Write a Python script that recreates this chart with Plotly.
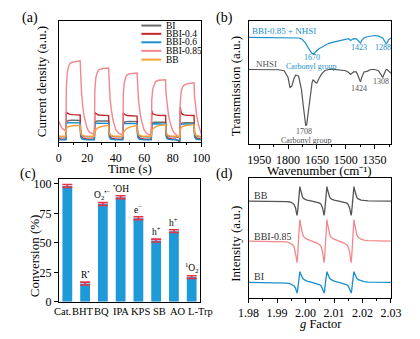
import plotly.graph_objects as go

# ---------------- data ----------------
# (a) transient photocurrent
time_s = [0, 2, 5, 5.3, 6, 7, 8, 10, 15, 15.3, 16, 17, 18, 20, 22,
          25, 25.3, 26, 27, 28, 30, 35, 35.3, 36, 37, 38, 40, 42,
          45, 45.3, 46, 47, 48, 50, 55, 55.3, 56, 57, 58, 60, 62,
          65, 65.3, 66, 67, 68, 70, 75, 75.3, 76, 77, 78, 80, 82,
          85, 85.3, 86, 87, 88, 90, 95, 95.3, 96, 97, 98, 100]
cur_BI = [4.5, 4.5, 4.5, 16, 17.5, 18, 18.2, 18.2, 18, 9, 6, 5, 4.8, 4.5, 4.5,
          4.5, 15.5, 17, 17.5, 17.6, 17.6, 17.5, 9, 6, 5, 4.8, 4.5, 4.5,
          4.5, 15, 16.5, 17, 17.1, 17.1, 17, 9, 6, 5, 4.8, 4.5, 4.5,
          4.5, 14.5, 16, 16.5, 16.6, 16.6, 16.5, 9, 6, 5, 4.8, 4.5, 4.5,
          4, 14, 15.5, 16, 16.1, 16.1, 16, 8.5, 6, 5, 4.8, 4.5]
cur_BBI04 = [3, 2.5, 2.5, 25, 24, 23.5, 23, 22.8, 22.5, 8, 4.5, 3.5, 3, 2.5, 2.5,
             2.5, 24.5, 23.5, 23, 22.5, 22.2, 22, 8, 4.5, 3.5, 3, 2.5, 2.5,
             2.5, 24, 23, 22.5, 22, 21.8, 21.5, 8, 4.5, 3.5, 3, 2.5, 2.5,
             2.5, 26, 23.5, 23, 22.5, 22.2, 22, 8, 4.5, 3.5, 3, 2.5, 2.5,
             0.5, 29, 24, 23, 22.5, 22.2, 22, 8, 4.5, 3.5, 3, 2.5]
cur_BBI06 = [2, 2, 2, 15, 16, 16.2, 16.2, 16.1, 16, 5, 3, 2.5, 2.2, 2, 2,
             2, 14.5, 15.5, 15.8, 15.8, 15.7, 15.6, 5, 3, 2.5, 2.2, 2, 2,
             2, 14.5, 15.5, 15.6, 15.6, 15.5, 15.4, 5, 3, 2.5, 2.2, 2, 2,
             2, 14, 15, 15.2, 15.2, 15.1, 15, 5, 3, 2.5, 2.2, 2, 2,
             1.5, 14, 15, 15.1, 15.1, 15, 15, 5, 3, 2.5, 2.2, 2]
cur_BBI085 = [17, 12, 9, 45, 58, 63, 65, 66, 67, 52, 40, 28, 20, 11, 8,
              6.5, 42, 53, 57.5, 59.5, 60.5, 61, 47, 36, 26, 18.5, 10.5, 7.5,
              6, 39, 49, 53.5, 55.5, 56.5, 57, 44, 34, 25, 18, 10, 7,
              5.5, 35, 44, 48, 50, 51, 51.5, 40, 31, 23, 17, 9.5, 6.5,
              4, 33, 42, 45.5, 47, 48, 49, 38, 29, 21, 15, 7]
cur_BB = [5, 5, 5, 11, 12.5, 13, 13.3, 13.6, 14, 8, 6, 5.5, 5.2, 5, 5,
          5, 9, 10.5, 11.5, 12.2, 13, 14, 8, 6, 5.5, 5.2, 5, 5,
          5, 8, 9.5, 10.5, 11.5, 12.5, 14, 8, 6, 5.5, 5.2, 5, 5,
          5, 9, 11, 12, 12.8, 13.5, 14.5, 8, 6, 5.5, 5.2, 5, 5,
          4.5, 10, 12, 13, 13.5, 14, 14.5, 8, 6, 5.5, 5.2, 5]
series_a_names = ["BI", "BBI-0.4", "BBI-0.6", "BBI-0.85", "BB"]

# (b) FTIR
wavenumber = [2005, 1950, 1900, 1850, 1820, 1800, 1790, 1780, 1770, 1760,
              1745, 1730, 1720, 1712, 1708, 1703, 1695, 1685, 1675, 1670,
              1665, 1658, 1650, 1640, 1625, 1610, 1590, 1570, 1550, 1520,
              1500, 1485, 1475, 1460, 1445, 1435, 1424, 1415, 1405, 1390,
              1370, 1350, 1330, 1318, 1308, 1300, 1290, 1285, 1278, 1265]
tr_NHSI = [60.5, 60.5, 60.5, 60.3, 59.5, 54, 46, 47, 53, 56,
           55, 44, 30, 18, 15, 16, 26, 39, 50, 52,
           51.5, 50, 49.5, 53, 57, 59.5, 60.5, 60.8, 60.5, 60,
           59.5, 58, 56.5, 58.5, 58.5, 55, 50.5, 55, 58.5, 59,
           60.5, 60.5, 59.5, 56.5, 54, 57, 60.5, 60.5, 59.5, 57.5]
tr_BBI_NHSI = [86.5, 86.5, 86.5, 86.5, 86.5, 86.5, 86.5, 86.5, 86.4, 86.3,
               86, 85.3, 84, 82.5, 81.5, 80, 78, 75.5, 73.5, 73,
               73.2, 74.5, 76, 77.3, 78.5, 80, 81.5, 82.5, 83.3, 84.5,
               85, 85.5, 84, 85.5, 85.3, 84, 82, 84.5, 86, 87,
               87.8, 88, 87.5, 87, 86, 84, 81.5, 82, 84.5, 86]

# (c) scavenger experiments
scavengers = ["Cat.", "BHT", "BQ", "IPA", "KPS", "SB", "AO", "L-Trp"]
conversion = [98.3, 15.5, 83, 88.8, 71, 52, 60, 21]
conversion_err = [1.2, 1.2, 1.2, 1.2, 1.2, 1.2, 1.2, 1.2]
species = ["", "R<sup>•</sup>", "O<sub>2</sub><sup>•−</sup>", "<sup>•</sup>OH",
           "e<sup>−</sup>", "h<sup>+</sup>", "h<sup>+</sup>", "<sup>1</sup>O<sub>2</sub>"]

# (d) EPR
g_factor = [1.980, 1.990, 1.9935,
            1.9945, 1.9955, 1.9960, 1.9965, 1.9968, 1.9970, 1.9972, 1.9975,
            1.9978, 1.9980, 1.9982, 1.9985, 1.9990, 1.9995, 2.0005,
            2.00225,
            2.0040, 2.0050, 2.0055, 2.0060, 2.0063, 2.0065, 2.0067, 2.0070,
            2.0073, 2.0075, 2.0077, 2.0080, 2.0085, 2.0090, 2.0100,
            2.01175,
            2.0135, 2.0145, 2.0150, 2.0155, 2.0158, 2.0160, 2.0162, 2.0165,
            2.0168, 2.0170, 2.0172, 2.0175, 2.0180, 2.0185, 2.0195,
            2.0205, 2.022, 2.030]
epr_BB = [81, 81, 80.5,
          80.2, 79.2, 78, 75, 71.4, 69, 72, 81, 90, 93, 90.6, 87, 84, 82.8, 81.8,
          81,
          80.2, 79.2, 78, 75, 71.4, 69, 72, 81, 90, 93, 90.6, 87, 84, 82.8, 81.8,
          81,
          80.2, 79.2, 78, 75, 71.4, 69, 72, 81, 90, 93, 90.6, 87, 84, 82.8, 81.8,
          81.5, 81.2, 81]
epr_BBI085 = [47.5, 47.4, 46.8,
              45.9, 44.3, 42.5, 38.1, 33.1, 29.5, 34, 47.5, 61, 65.5, 62.3, 57.4, 52.9, 50.7, 49.1,
              47.5,
              45.9, 44.3, 42.5, 38.1, 33.1, 29.5, 34, 47.5, 61, 65.5, 62.3, 57.4, 52.9, 50.7, 49.1,
              47.5,
              45.9, 44.3, 42.5, 38.1, 33.1, 29.5, 34, 47.5, 61, 65.5, 62.3, 57.4, 52.9, 50.7, 49.1,
              48.3, 47.9, 47.5]
epr_BI = [13, 12.9, 12.4,
          11.9, 11, 10, 8, 5.6, 4, 6.2, 13, 19.8, 22, 20.6, 18.4, 16.4, 15.3, 14.1,
          13,
          11.9, 11, 10, 8, 5.6, 4, 6.2, 13, 19.8, 22, 20.6, 18.4, 16.4, 15.3, 14.1,
          13,
          11.9, 11, 10, 8, 5.6, 4, 6.2, 13, 19.8, 22, 20.6, 18.4, 16.4, 15.3, 14.1,
          13.6, 13.3, 13]

# ---------------- styling ----------------
# the page body has an 8 px margin, so the figure is 8 px smaller and
# all reference pixel positions are shifted by 8 px
OFF = 8
W, H = 420 - OFF, 339 - OFF
FONT = "Liberation Serif, Times New Roman, serif"
C_GRAY = "#6b6b6b"
C_RED = "#c1272d"
C_BLUE = "#1a8fcf"
C_PINK = "#f4868d"
C_ORANGE = "#f9a03a"
C_BAR = "#1e9ad8"
C_ERR = "#e8334a"


def px(x):
    return (x - OFF) / W


def py(y):
    return 1 - (y - OFF) / H


def axis(**kw):
    base = dict(showline=True, linecolor="black", linewidth=1, mirror=True,
                ticks="outside", ticklen=4, tickwidth=1, tickcolor="black",
                showgrid=False, zeroline=False,
                tickfont=dict(size=12, color="black", family=FONT))
    base.update(kw)
    return base


def noy(**kw):
    return axis(showticklabels=False, ticks="", **kw)


fig = go.Figure()

# (a)
a_colors = [C_GRAY, C_RED, C_BLUE, C_PINK, C_ORANGE]
a_series = [cur_BI, cur_BBI04, cur_BBI06, cur_BBI085, cur_BB]
for name, col, ys in zip(series_a_names, a_colors, a_series):
    fig.add_trace(go.Scatter(x=time_s, y=ys, mode="lines", name=name,
                             line=dict(color=col, width=1.4),
                             xaxis="x", yaxis="y", showlegend=False))

# (b)
fig.add_trace(go.Scatter(x=wavenumber, y=tr_BBI_NHSI, mode="lines",
                         line=dict(color=C_BLUE, width=1.2),
                         xaxis="x2", yaxis="y2", showlegend=False))
fig.add_trace(go.Scatter(x=wavenumber, y=tr_NHSI, mode="lines",
                         line=dict(color="#555555", width=1.2),
                         xaxis="x2", yaxis="y2", showlegend=False))

# (c)
fig.add_trace(go.Bar(x=scavengers, y=conversion, width=0.55,
                     marker=dict(color=C_BAR, line=dict(width=0)),
                     error_y=dict(type="data", array=conversion_err,
                                  color=C_ERR, thickness=1.6, width=5),
                     xaxis="x3", yaxis="y3", showlegend=False))

# (d)
for ys, col in [(epr_BB, "#555555"), (epr_BBI085, C_PINK), (epr_BI, C_BLUE)]:
    fig.add_trace(go.Scatter(x=g_factor, y=ys, mode="lines",
                             line=dict(color=col, width=1.3),
                             xaxis="x4", yaxis="y4", showlegend=False))

ann = []
shapes = []


def text(x, y, s, size=12, color="black", xanchor="center", angle=0, **kw):
    ann.append(dict(x=x, y=y, xref="paper", yref="paper", text=s, showarrow=False,
                    xanchor=xanchor, yanchor="middle", textangle=angle,
                    font=dict(size=size, color=color, family=FONT), **kw))


# panel labels
text(px(21), py(16), "(a)", 14)
text(px(226), py(16), "(b)", 14)
text(px(19), py(177), "(c)", 14)
text(px(226), py(177), "(d)", 14)

# axis titles
text(px(33), py(81.5), "Current density (a.u.)", 13, angle=-90)
text(px(126), py(170.5), "Time (s)", 13)
text(px(238), py(86), "Transmission (a.u.)", 13, angle=-90)
text(px(326), py(172.5), "Wavenumber (cm⁻¹)", 13)
text(px(25), py(261), "Conversion (%)", 13, angle=-90)
text(px(237), py(248), "Intensity (a.u.)", 13, angle=-90)
text(px(327), py(331), "<i>g</i> Factor", 12.5)

# legend (a)
leg_y = [24, 32.5, 41.2, 50, 59]
for name, col, yy in zip(series_a_names, a_colors, leg_y):
    shapes.append(dict(type="line", xref="paper", yref="paper",
                       x0=px(138), x1=px(159), y0=py(yy), y1=py(yy),
                       line=dict(color=col, width=2)))
    text(px(162), py(yy), name, 9.5, xanchor="left")

# (b) labels
text(px(252), py(30), "BBI-0.85 + NHSI", 9, C_BLUE, xanchor="left")
text(px(318), py(57), "1670", 8, C_BLUE)
text(px(317), py(66), "Carbonyl group", 8, C_BLUE)
text(px(367), py(47), "1423", 8, C_BLUE)
text(px(393), py(47), "1288", 8, C_BLUE)
text(px(257), py(63), "NHSI", 9, "#555555", xanchor="left")
text(px(367), py(89), "1424", 8, "#555555")
text(px(391), py(81), "1308", 8, "#555555")
text(px(309), py(133), "1708", 8, "#555555")
text(px(311), py(142), "Carbonyl group", 8, "#555555")

# (c) species labels above bars
for cat, v, e, s in zip(scavengers, conversion, conversion_err, species):
    if s:
        ann.append(dict(x=cat, y=v + e, xref="x3", yref="y3", text=s, showarrow=False,
                        xanchor="center", yanchor="bottom", yshift=0,
                        font=dict(size=9.5, color="black", family=FONT)))

# (c) category labels, spread slightly wider than the bars as in the original
label_shift = [-4.5, -2.5, -1.5, 0, 2.5, 3, 4.5, 9]
for cat, sh in zip(scavengers, label_shift):
    ann.append(dict(x=cat, y=0, xref="x3", yref="y3", text=cat, showarrow=False,
                    xanchor="center", yanchor="top", xshift=sh, yshift=-2,
                    font=dict(size=10.5, color="black", family=FONT)))

# (d) labels
text(px(255), py(199), "BB", 10, "#333333", xanchor="left")
text(px(255), py(241), "BBI-0.85", 10, "#333333", xanchor="left")
text(px(255), py(282), "BI", 10, "#333333", xanchor="left")

fig.update_layout(
    width=W, height=H, margin=dict(l=0, r=0, t=0, b=0),
    paper_bgcolor="white", plot_bgcolor="white",
    font=dict(family=FONT, color="black"),
    xaxis=axis(domain=[px(51), px(201)], range=[0, 100], dtick=20, anchor="y",
               minor=dict(dtick=10, ticks="outside", ticklen=2, tickcolor="black")),
    yaxis=noy(domain=[py(144), py(19)], range=[0, 100], anchor="x"),
    xaxis2=axis(domain=[px(251), px(401)], range=[2005, 1265], tick0=1950, dtick=150,
                anchor="y2",
                minor=dict(tick0=1950, dtick=75, ticks="outside", ticklen=2, tickcolor="black")),
    yaxis2=noy(domain=[py(146), py(19)], range=[0, 100], anchor="x2"),
    xaxis3=axis(domain=[px(51), px(200)], type="category", range=[-0.48, 7.48],
                anchor="y3", ticks="", showticklabels=False),
    yaxis3=axis(domain=[py(308), py(182)], range=[0, 104], dtick=25, anchor="x3"),
    xaxis4=axis(domain=[px(251), px(401)], range=[1.98, 2.03], dtick=0.01,
                tickformat=".2f", anchor="y4",
                minor=dict(dtick=0.005, ticks="outside", ticklen=2, tickcolor="black")),
    yaxis4=noy(domain=[py(304), py(181)], range=[0, 100], anchor="x4"),
    annotations=ann, shapes=shapes, bargap=0.4,
)

fig.write_html("out.html")
